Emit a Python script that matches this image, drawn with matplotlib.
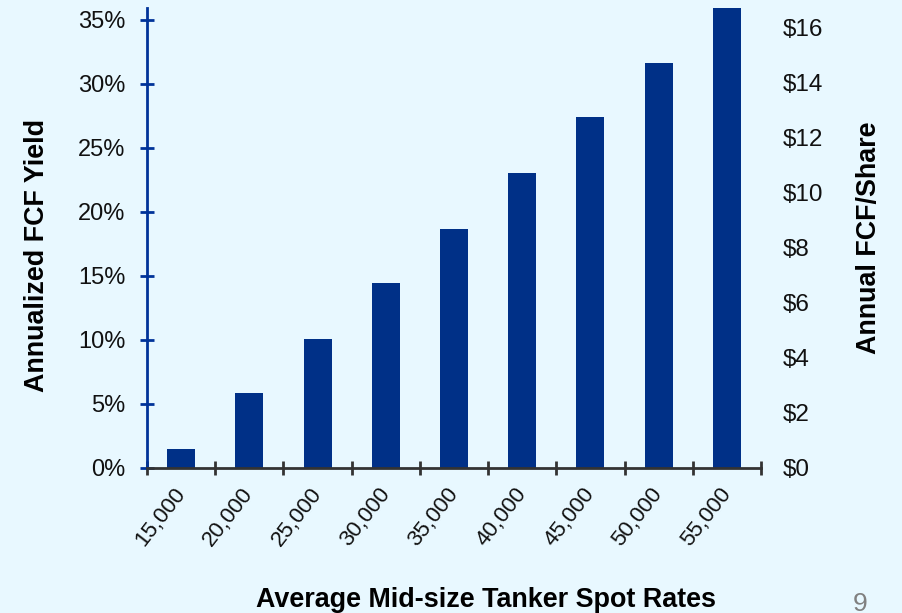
import numpy as np
import matplotlib
matplotlib.use("Agg")
import matplotlib.pyplot as plt
from matplotlib.transforms import ScaledTranslation

# spot rate scenarios and resulting annualized FCF yield (%)
rates = ["15,000", "20,000", "25,000", "30,000", "35,000",
         "40,000", "45,000", "50,000", "55,000"]
fcf_yield = [1.45, 5.85, 10.05, 14.4, 18.65, 23.0, 27.4, 31.6, 36.0]
yield_ticks = [0, 5, 10, 15, 20, 25, 30, 35]
share_ticks = [0, 2, 4, 6, 8, 10, 12, 14, 16]

bg = "#E8F8FF"
bar_color = "#003087"

plt.rcParams["font.family"] = ["Liberation Sans", "DejaVu Sans"]

fig = plt.figure(figsize=(9.02, 6.13), dpi=100, facecolor=bg)
ax = fig.add_axes([147 / 902, 1 - 468 / 613, 614 / 902, 460 / 613])
ax.set_facecolor(bg)

x = np.arange(len(rates))
ax.bar(x, fcf_yield, width=0.41, color=bar_color, zorder=2)

ax.set_xlim(-0.5, len(rates) - 0.5)
ax.set_ylim(0, 35.9)

# y axis: percent yield
ax.set_yticks(yield_ticks)
ax.set_yticklabels([f"{v}%" for v in yield_ticks], fontsize=17, color="#111111")
ax.tick_params(axis="y", direction="inout", length=10, width=2,
               color="#003399", pad=10.5)

# x axis: ticks on category boundaries, labels at bar centres
ax.set_xticks(np.arange(len(rates) + 1) - 0.5)
ax.set_xticklabels([])
ax.set_xticks(x, minor=True)
ax.set_xticklabels(rates, minor=True, rotation=52, ha="right", va="center",
                   rotation_mode="anchor", fontsize=16, color="#111111")
ax.tick_params(axis="x", which="major", direction="inout", length=10,
               width=2, color="#333333")
ax.tick_params(axis="x", which="minor", length=0, pad=16)
shift = ScaledTranslation(0, 0, fig.dpi_scale_trans)
for lbl in ax.get_xticklabels(minor=True):
    lbl.set_transform(lbl.get_transform() + shift)

for side in ("top", "right"):
    ax.spines[side].set_visible(False)
ax.spines["left"].set_color("#003399")
ax.spines["left"].set_linewidth(2)
ax.spines["bottom"].set_color("#333333")
ax.spines["bottom"].set_linewidth(2)
ax.spines["bottom"].set_zorder(3)

# right axis: FCF per share
ax2 = ax.twinx()
ax2.set_ylim(0, 16.7)
ax2.set_yticks(share_ticks)
ax2.set_yticklabels([f"${v}" for v in share_ticks], fontsize=17.5, color="#111111")
ax2.tick_params(axis="y", length=0, pad=16)
for side in ("top", "right", "left", "bottom"):
    ax2.spines[side].set_visible(False)

fig.text(37 / 902, 1 - 255 / 613, "Annualized FCF Yield", rotation=90,
         ha="center", va="center", fontsize=19.4, fontweight="bold")
fig.text(869 / 902, 1 - 238 / 613, "Annual FCF/Share", rotation=90,
         ha="center", va="center", fontsize=19.4, fontweight="bold")
fig.text(486 / 902, 1 - 600 / 613, "Average Mid-size Tanker Spot Rates",
         ha="center", va="center", fontsize=19.4, fontweight="bold")
fig.text(860 / 902, 1 - 592 / 613, "9", ha="center", va="top",
         fontsize=19, color="#808080")

fig.savefig("out.png", dpi=100, facecolor=bg)
